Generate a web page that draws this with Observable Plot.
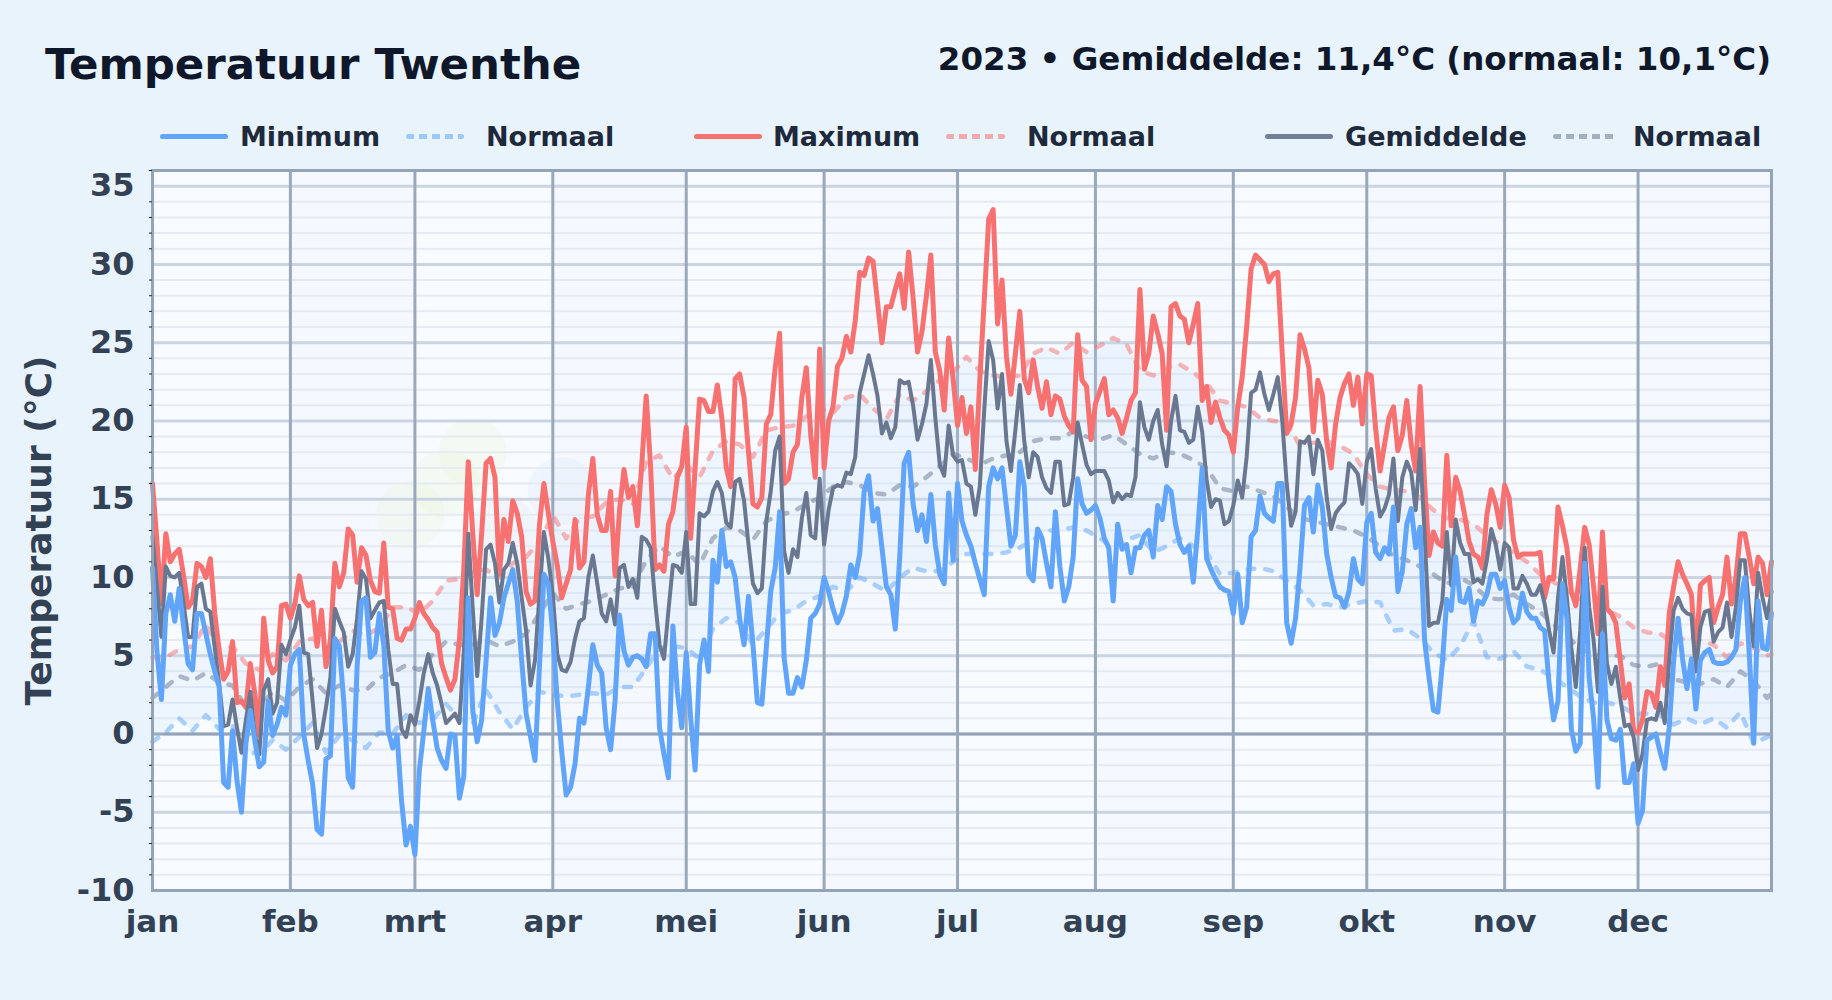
<!DOCTYPE html>
<html><head><meta charset="utf-8">
<script src="https://cdn.jsdelivr.net/npm/d3@7"></script>
<script src="https://cdn.jsdelivr.net/npm/@observablehq/plot@0.6"></script>
<style>
html,body{margin:0;padding:0;background:#e8f3fc;width:1832px;height:1000px;overflow:hidden;font-family:"DejaVu Sans",sans-serif;font-weight:bold}
.t{position:absolute;white-space:nowrap;line-height:1}
.sw{position:absolute;height:5px;border-radius:2.5px}
#chart{position:absolute;left:0;top:150px}
</style></head><body>
<div class="t" style="left:45px;top:43px;font-size:43.5px;color:#0f172a">Temperatuur Twenthe</div>
<div class="t" style="right:61px;top:43px;font-size:32.5px;color:#0f172a">2023 • Gemiddelde: 11,4°C (normaal: 10,1°C)</div>
<div id="legend"></div>
<div id="chart"></div>
<script>
const monthNames=["jan","feb","mrt","apr","mei","jun","jul","aug","sep","okt","nov","dec"];
const monthStarts=[0,31,59,90,120,151,181,212,243,273,304,334];
const maxT=[
16,12.3,8.3,12.8,11,11.5,11.8,10.1,8.1,8.5,10.9,10.7,10,11.2,7.7,5.3,3.5,4,5.9,2,2.1,1.7,4.5,2.6,-0.1,7.4,4.7,3.9,4.3,8.2,8.3,
7.4,8.3,10.1,8.6,8.2,8.4,5.6,7.9,4.3,6,10.9,9.4,10.3,13.1,12.7,9.7,11.9,11.4,9.8,9.1,9,12.2,8.1,8,6.1,6,6.7,6.7,
7.4,8.4,7.7,7.3,6.8,6.5,4.5,3.6,2.8,3.5,6,10.6,17.4,12.8,8.9,12.8,17.3,17.6,16.4,10.2,13.7,12.3,14.9,14.1,12.6,9.1,8.3,8.5,13.4,16,14.1,
12.3,10.8,8.7,9.6,10.5,13.7,10.6,11,15.3,17.6,14,13,13,15.5,10.1,14.3,16.9,15.1,15.8,13.3,17.2,21.6,17,10.5,10.8,10.4,13.4,14.2,16.4,17.1,
19.6,12.5,17,21.4,21.3,20.6,20.6,22.3,20.2,17,15.8,22.7,23,21.5,18,14.7,14.5,15.1,19.8,20.4,23.4,25.6,16,16.3,18,18.5,21.5,23.4,19.1,16.4,24.6,
17,20,20.9,23.5,24,25.4,24.4,26.4,29.5,29.3,30.4,30.2,27.6,25,27.3,27.3,28.4,29.4,27.2,30.8,27.9,24.4,25.7,28,30.6,24.4,23.2,20.7,25.3,22.7,
19.7,21.5,19.2,20.9,16.9,22.6,27.7,32.9,33.5,26.2,29,24.1,21.7,24.3,27,22.7,21.8,23.9,22.2,20.8,22.5,20.4,21.6,21.4,20.3,19.7,19.3,25.5,22.6,22.2,18.8,
21.1,21.9,22.7,20.4,20.7,20.2,19.2,20.2,21.3,21.8,28.4,23.3,24.3,26.7,25.6,24.3,19.4,27.3,27.5,26.7,26.5,25,26.2,27.5,21.3,22.2,19.9,21.2,20.2,19.4,19.1,
18,20.9,22.8,26,29.7,30.6,30.3,30,28.9,29.4,29.5,24.3,19.2,19.8,21.5,25.5,24.6,23.4,19.3,22.6,21.7,18.7,17,19.8,21.5,22.4,23,21,22.8,19.8,
23,22.9,19.5,16.8,18.5,20.2,20.9,18.1,19.1,21.3,18.5,16.8,22.2,16,11.4,12.9,12.2,12,17.8,13.3,16.4,15.5,14,12.3,11.5,11.3,10.6,14,15.6,14.7,13.2,
15.9,15.1,12.4,11.3,11.5,11.5,11.5,11.5,11.6,8.7,10,9.9,14.5,13.3,11.9,9.1,8.2,10.6,13.2,12.1,9.4,6.4,12.9,8,7.7,7.1,4.7,2.3,3.2,0.2,
0.1,0.9,2.7,2.6,1.7,4.3,3.1,7.7,9.4,11,10.2,9.6,8.9,4.8,9.5,9.8,10,7.1,8.1,8.9,11.3,8.3,10,12.8,12.8,11.3,9.6,11.3,10.9,8.9,11];
const minT=[
10.6,5.3,2.2,7.7,8.9,7.2,9.3,6.8,4.5,4.1,7.7,7.7,6.4,5.1,4,3,-3.1,-3.4,0.2,-3,-5,-0.6,1.5,-0.4,-2.1,-1.8,2.1,-0.1,0.6,1.7,1.2,
4.4,5.1,5.4,0,-1.7,-3.2,-6.1,-6.4,-1.6,-1.4,6.1,5.6,2.1,-2.8,-3.4,4.3,8.5,8.7,4.9,5.2,7.7,5.7,0.2,-0.9,-0.1,-4.3,-7.1,-5.9,
-7.7,-2.3,0.2,2.9,0.9,-0.9,-1.7,-2.2,0,-0.1,-4.1,-2.7,8.7,1.5,-0.5,0.9,4.7,8.7,6.3,7.1,8.7,9.6,10.5,8.5,4.7,1.3,-0.2,-1.7,4.3,10.2,9.6,
6.4,2.1,-1.1,-3.9,-3.4,-1.9,1,0.7,3,5.7,4.4,3.9,0.4,-1,2.1,7.6,5.3,4.4,4.9,5,4.8,4.3,6.4,6.4,0.4,-1.3,-2.8,6.9,2.7,0.4,
5.2,1,-2.3,4.4,6,4,11.1,9.7,13,10.7,11,10,7.4,5.7,8.8,5.7,2,1.9,5.5,9.1,10.6,14.2,4.9,2.6,2.6,3.6,3,4.7,7.4,7.7,8.3,
10,9.1,8,7.1,7.7,8.8,10.8,10,11.5,15.5,16.5,13.6,14.4,11.9,9.4,8.9,6.7,11.3,17.3,18,14.7,13,14,12.3,15.3,12.1,10.2,9.6,15.4,11.1,
16,13.6,12.7,12,10.9,9.9,8.9,15.8,17,16.3,17,14.5,12,12.7,17.4,15.8,10.2,9.8,13.1,12.5,10.9,9.4,14.2,10.7,8.5,9.4,11.3,16.3,14.7,14.1,14.3,
14.6,13.8,12.5,11.9,8.5,13.4,11.8,12.1,10.3,11.9,11.9,12.7,13,11.3,14.6,13.7,15.8,15.5,13.4,12.1,11.6,12,9.7,13,17,11.2,10.5,9.9,9.4,9.2,9.1,
7.7,10.2,7.1,8.1,12.6,13,15.2,14.1,13.8,13.6,16,16,7.1,5.8,7.4,10.6,14.6,15.1,12.9,15.9,14.5,11.5,10,8.8,8.7,8.1,9.1,11.2,9.9,9.6,
13.5,14.1,11.6,11.2,11.9,11.5,14.5,9.1,10.4,13.4,14.4,11.9,13.2,6,3.6,1.5,1.4,4.5,8.6,7.9,11.3,8.5,8.4,9.3,7.2,8.5,8.3,8.9,10.2,10.2,9.3,
9.8,8.1,7.1,7.4,9,7.8,7.4,7.4,6.8,6.6,3.2,0.9,2.1,9.6,7.4,0.3,-1.1,-0.6,10.9,3.6,1,-3.4,6.4,0.9,-0.3,-0.4,0.3,-3.1,-3.1,-1.9,
-5.7,-4.9,-0.4,-0.2,0,-1.2,-2.2,0.4,4.7,7.4,4.8,2.9,4.8,1.6,4.7,5.2,5.4,4.6,4.5,4.5,4.6,4.9,5.4,8.5,10,5.1,-0.6,8.5,5.5,5.4,7.7];
const meanT=[
12.6,9.4,6.2,10.7,10.1,10,10.3,8.3,6.2,6.2,9.4,9.6,8,7.8,5.5,3.2,0.5,0.6,2.2,0.4,-1.2,0.9,2.7,0,-1.3,2.8,3.5,1.3,2,5.7,5.1,
6,6.8,8.2,5.2,5.1,2.1,-0.9,0,1.7,3.6,8,7.2,6.5,4.3,5.1,7.4,10.4,9.9,7.4,7.9,8.4,8.5,5.4,3.2,3.2,0.3,-0.2,1.2,
0.6,2.1,3.9,5.1,3.9,3.1,1.9,0.7,1,1.3,0.7,5.3,12.8,8,3.7,7.4,11.8,12.1,10.9,8.4,10.5,10.9,12.2,10.9,8.7,6.6,3.1,4.7,8.9,12.9,11.2,
8.9,5.1,4.1,4,4.6,6.1,7.2,7.4,10,11.4,9.6,7.7,7.2,8.6,7,10.6,10.8,9.4,9.9,8.7,12.6,12.4,11.9,8.5,5.7,4.8,7.9,10.8,10.7,10.3,
12.9,8.3,8.3,14.1,13.9,14.2,15.5,16.1,15.4,13.5,13.2,16.1,16.3,14.9,12.1,9.6,9,9.3,13.6,15.5,18.1,19,11.7,10.3,11.8,11.3,13.8,15.4,12.7,12.5,16.3,
12.1,14.3,15.7,15.9,15.8,16.7,16.6,17.7,21.8,23,24.2,23,21.6,19.2,19.9,18.9,19.6,22.6,22.4,22.5,21,18.8,19.8,21.1,23.9,20.2,17.2,16.5,19.7,17.8,
17.4,17.5,16,15.8,14,15.8,20.7,25.1,23.9,20.8,23,18.7,16.8,19.4,22.3,18.7,16.4,18,17.7,16.4,15.7,15.4,17.4,17.4,14.6,14.7,16.4,19.9,18.5,17.2,16.6,
16.8,16.8,16.8,16.2,14.8,15.4,15,15.3,15.2,16.4,21.2,19.6,18.8,20,20.7,18.5,17.1,20,21.6,19.4,19.3,18.6,18.8,20.9,19.3,16.2,14.5,15,14.9,13.4,13.6,
14.6,16.2,15.1,17.7,21.8,22,23.1,21.7,20.7,21.7,22.8,20,16,13.3,14.2,18.7,18.6,19,16.6,18.8,18.1,15.1,13.1,14.1,14.5,14.8,17.3,17,16.6,14.7,
17.4,18.2,15.7,13.9,14.4,15.3,17.6,13.6,16.4,17.4,16.7,14.3,18.2,12.8,6.9,7.1,7.1,8.5,12.9,9.5,13.7,12.2,11.5,11.5,9.7,9.9,9.6,11.1,13.1,12.1,10.5,
12.2,11.9,9.3,9.3,10.1,9.6,8.9,8.9,9.5,8.3,6.6,5.2,8.7,11.3,8.7,5.5,3,6.6,11.9,8.1,6,2.7,9.4,4.5,3.2,4.3,2.3,0.5,0.6,-0.2,
-2.3,-1.3,0.9,1,0.9,2,0.7,4.7,7.9,8.7,8,7.7,7.6,4,6.8,7.8,7.9,5.9,6.5,6.8,8.4,6.2,8.1,11.1,11.1,7.9,5.6,10.3,8.7,7.4,9.1];
const normDays=[...d3.range(0,364,3),364];
const normMax=[4.9,4.9,5.4,5.6,7,5.4,5.6,4.5,4.1,5.1,4.7,5.9,6.1,5.4,5.9,6.6,6.3,6.8,8.1,8.1,7.7,8.5,9.8,9.9,10.4,10.5,10,10.9,11.3,12.3,
14,12.5,13.8,13.9,14.8,15,14.7,17.4,17.8,16.3,17.2,16.4,18.1,18.7,18.5,17.7,19.4,19.6,19.7,20.3,20.8,20.5,21.5,21.7,20.8,20.1,21.7,21.3,21.9,22.6,
23.1,24.1,23.2,22.9,22.8,22.9,24.3,24.7,24.3,25,24.4,24.8,25.3,24.9,23.2,22.9,23.4,23.6,23.1,22.4,21.3,21.1,20.9,20.2,20,19.9,18.4,18.6,18.7,18.4,17.9,
16.6,15.8,15.6,15.5,15.1,14.3,13.8,13.7,13.4,12.7,12.1,11.6,11,10.2,9.7,9.2,8.6,8.1,7.9,7.5,6.8,6.5,6.4,5.8,6.2,6,5.7,4.9,5.8,5.5,5,5.1];
const normMean=[2.3,3,3.7,3.4,3.9,3.3,3.1,1.7,1.7,2.7,2.1,3,3.5,2.6,3.1,2.8,2.8,3.6,3.9,4.4,4.1,5.1,5.9,5.7,5.7,6,5.6,5.9,6.4,7.7,
9,8,8.3,8.5,8.9,9.3,9.4,11.1,12,11.3,11.7,10.8,12.5,13.2,13,12.4,13.6,14,14.2,14.7,15.1,15.8,16.1,15.9,15.4,15.3,15.9,15.8,16.4,17.1,
17.9,17.6,17.2,17.6,17.8,18,18.7,18.9,18.9,19.3,19,18.8,19.1,18.5,17.9,17.6,18,17.9,17.5,17,15.7,15.5,15.8,15.5,15.2,14.5,13.8,13.6,13.4,13.2,13,
12.6,12,11.4,11.1,10.7,10.2,9.6,10,9.5,8.7,8.6,8.9,8.3,7.8,7,6.3,5.4,5.1,5,5,4.4,4.3,4.5,3.5,3.3,3.2,3.5,3,4,3.4,2.3,2.6];
const normMin=[-0.5,0.1,1,0.2,1.2,0.3,0.5,-1.1,-1.3,-0.4,-1,-0.2,0.7,-1.2,-0.1,-0.4,-0.9,0.1,0,1.2,0.7,0.9,1.9,1,0.6,2.8,1.4,0.3,1.7,2.7,
2.5,2.4,2.5,2.6,2.5,3,3,4.2,5.5,5.6,5.5,4.8,6.7,7.4,7.1,5.7,6.7,7.7,7.9,8.5,8.8,9.4,9.1,10,9.6,9.1,10,10.6,10.4,10.4,
11,11.5,11.5,11.5,11.6,11.9,12.4,13,13,13.2,13,12.5,11.9,12.4,12.7,11.6,12,12.5,12,11.6,10.2,10.3,10.5,10.6,10.4,9.8,9.2,8.2,8.3,8.1,8.3,
8.5,8.4,6.6,6.7,6.1,5.2,4.7,5.6,7.2,4.9,4.8,5.3,4.3,4.1,3.6,3,2.4,2,2,1.8,1.3,1.3,1.2,0.6,1,0.6,1,0.4,1.4,-0.6,-0.2,-0.1];
const legendLabels=["Minimum","Normaal","Maximum","Normaal","Gemiddelde","Normaal"];
const colMin="#60a5fa",colMax="#f87171",colMean="#697890";
const blobDay=[72,66,58,92,79],blobTemp=[18,16,14,15.5,13],blobFill=["#e9f5d8","#e9f5d8","#e9f5d8","#d6e9fb","#dfe8f5"];

const days=d3.range(365);
const norm=normDays.map((d,i)=>({d,lo:normMin[i],hi:normMax[i],mid:normMean[i]}));
const bands=monthStarts.map((s,i)=>({x1:s,x2:i<11?monthStarts[i+1]:364,i})).filter(b=>b.i%2==1);
const all=d3.range(-10,37), majors=all.filter(v=>v%5===0&&v<36), minors=all.filter(v=>v%5!==0);
const blobs=blobDay.map((d,i)=>({d,t:blobTemp[i],f:blobFill[i]}));

const main=(arr,color,w)=>Plot.line(days,{x:d=>d,y:d=>arr[d],stroke:color,strokeWidth:w,strokeLinejoin:"round",strokeLinecap:"round"});
const normal=(key,color)=>Plot.line(norm,{x:"d",y:key,stroke:color,strokeWidth:4.5,strokeOpacity:0.5,strokeDasharray:"7,11",strokeLinecap:"round",strokeLinejoin:"round"});

const chart=Plot.plot({
  width:1832,height:850,marginLeft:152,marginRight:61,marginTop:20,marginBottom:110,
  style:{background:"transparent",fontFamily:"DejaVu Sans",fontWeight:"bold"},
  x:{domain:[0,364]},y:{domain:[-10,36]},
  marks:[
    Plot.frame({fill:"#f8fbff",stroke:null}),
    Plot.rectX(bands,{x1:"x1",x2:"x2",fill:"#e4e9f5",fillOpacity:0.12}),
    Plot.dot(blobs,{x:"d",y:"t",r:34,fill:"f",fillOpacity:0.3}),
    Plot.ruleY(minors,{stroke:"#e6ebf2",strokeWidth:2}),
    Plot.ruleY(majors,{stroke:"#cbd5e1",strokeWidth:3}),
    Plot.ruleY([0],{stroke:"#94a3b8",strokeWidth:3}),
    Plot.ruleX(monthStarts,{stroke:"#9aa8bc",strokeWidth:3}),
    Plot.areaY(norm,{x:"d",y1:"lo",y2:"hi",fill:"#bfdbfe",fillOpacity:0.18}),
    normal("lo",colMin),normal("hi",colMax),normal("mid",colMean),
    main(maxT,colMax,5),main(meanT,colMean,4),main(minT,colMin,5),
    Plot.frame({stroke:"#94a3b8",strokeWidth:3}),
    Plot.axisY({ticks:minors,tickSize:3,tickFormat:()=>"",stroke:"#1e293b",label:null}),
    Plot.axisY({ticks:majors,tickSize:0,tickPadding:18,tickFormat:d=>String(d),fontSize:32,fontWeight:"bold",fill:"#334155",label:null}),
    Plot.axisX({ticks:monthStarts,tickSize:0,tickPadding:19,tickFormat:d=>monthNames[monthStarts.indexOf(d)],fontSize:31,fontWeight:"bold",fill:"#334155",label:null}),
    Plot.text(["Temperatuur (°C)"],{frameAnchor:"left",rotate:-90,dx:-113,textAnchor:"middle",fontSize:36,fontWeight:"bold",fill:"#334155"})
  ]
});
document.getElementById("chart").append(chart);

const lg=document.getElementById("legend");
const items=[[160,68,colMin,0,240],[406,58,colMin,1,486],[694,68,colMax,0,773],[946,59,colMax,1,1027],[1265,68,"#708099",0,1345],[1553,65,colMean,1,1633]];
items.forEach((it,i)=>{
  const [x,w,c,dash,tx]=it;
  const s=document.createElement("div");s.className="sw";
  s.style.cssText=`left:${x}px;top:134px;width:${w}px;`+(dash?`background:repeating-linear-gradient(90deg,${c} 0 8px,transparent 8px 13px);opacity:.55`:`background:${c}`);
  lg.append(s);
  const t=document.createElement("div");t.className="t";
  t.style.cssText=`left:${tx}px;top:123px;font-size:27px;color:#1e293b`;t.textContent=legendLabels[i];
  lg.append(t);
});
</script>
</body></html>
